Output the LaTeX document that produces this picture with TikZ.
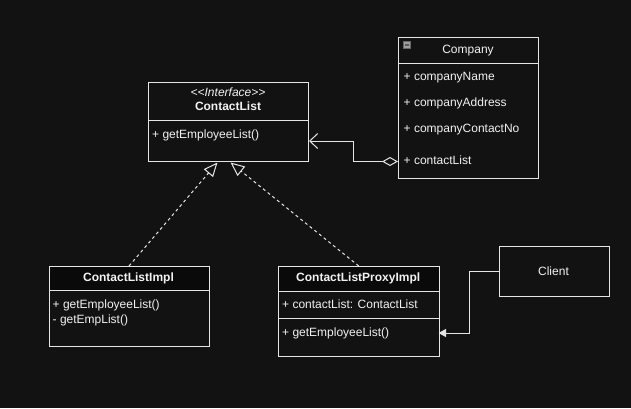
\documentclass[tikz,border=0pt]{standalone}
\usepackage{fontspec}
\setmainfont{Liberation Sans}[Ligatures=TeXOff]
\usetikzlibrary{arrows.meta,calc}
\definecolor{bg}{HTML}{121212}
\definecolor{hdr}{HTML}{0A0A0A}
\definecolor{ln}{HTML}{E6E6E6}
\definecolor{tx}{HTML}{F2F2F2}
\begin{document}
\begin{tikzpicture}[x=1pt,y=-1pt,
  box/.style={draw=ln,line width=1pt,fill=bg,rectangle,inner sep=0pt,anchor=north west},
  hbox/.style={box,fill=hdr},
  txt/.style={text=tx,inner sep=0pt,font=\fontsize{12}{14}\selectfont},
  ltxt/.style={txt,anchor=base west},
  ctxt/.style={txt,anchor=base},
  edge/.style={draw=ln,line width=1pt},
  real/.style={edge,dash pattern=on 3pt off 3pt,-{Triangle[open,fill=bg,length=14pt,width=12pt]}},
]
\fill[bg] (0,0) rectangle (631,408);
\useasboundingbox (0,0) rectangle (631,408);

% ContactList
\node[box,minimum width=160pt,minimum height=38pt] (clh) at (148,82) {};
\node[box,minimum width=160pt,minimum height=41pt] (clm) at (148,120) {};
\node[ctxt,font=\itshape\fontsize{12}{14}\selectfont] (clst) at (228,96) {<<Interface>>};
\node[ctxt,font=\bfseries\fontsize{12}{14}\selectfont] (clt) at (228,110.5) {ContactList};
\node[ltxt] (clm1) at (152,138.5) {+ getEmployeeList()};

% Company
\node[box,minimum width=140pt,minimum height=25.5pt] (coh) at (398,37) {};
\node[box,minimum width=140pt,minimum height=115.5pt] (cob) at (398,62.5) {};
\node[ctxt] (cot) at (468,53.5) {Company};
\node[draw=black!60,fill=black!38,line width=0.8pt,minimum size=7pt,inner sep=0pt] (coicon) at (407,45) {};
\draw[black!65,line width=1.2pt] ($(coicon.center)+(-2.3,0)$) -- ($(coicon.center)+(2.3,0)$);
\node[ltxt] (coa1) at (403.5,80.5) {+ companyName};
\node[ltxt] (coa2) at (403.5,106.5) {+ companyAddress};
\node[ltxt] (coa3) at (403.5,132.5) {+ companyContactNo};
\node[ltxt] (coa4) at (403.5,164.5) {+ contactList};
\coordinate (aggstart) at (398,161.5);

% ContactListImpl
\node[hbox,minimum width=160pt,minimum height=24pt] (cih) at (48.5,266) {};
\node[box,minimum width=160pt,minimum height=56pt] (cib) at (48.5,290) {};
\node[ctxt,font=\bfseries\fontsize{12}{14}\selectfont] (cit) at (128.5,281.5) {ContactListImpl};
\node[ltxt] (cim1) at (52.5,308.5) {+ getEmployeeList()};
\node[ltxt] (cim2) at (52.5,323.5) {- getEmpList()};

% ContactListProxyImpl
\node[hbox,minimum width=160.5pt,minimum height=24.5pt] (cph) at (278,266) {};
\node[box,minimum width=160.5pt,minimum height=27.5pt] (cpa) at (278,290.5) {};
\node[box,minimum width=160.5pt,minimum height=38pt] (cpm) at (278,318) {};
\node[ctxt,font=\bfseries\fontsize{12}{14}\selectfont] (cpt) at (358.25,281.5) {ContactListProxyImpl};
\node[ltxt] (cpa1) at (282,308.5) {+ contactList: ContactList};
\node[ltxt] (cpm1) at (282,336.5) {+ getEmployeeList()};
\coordinate (cparr) at (438.5,333);

% Client
\node[box,minimum width=110pt,minimum height=50pt] (cli) at (498.5,246) {};
\node[ctxt] (clit) at (553.5,275.5) {Client};

% connectors
\draw[edge,{Diamond[open,fill=bg,length=16pt,width=9pt]}-{Straight Barb[length=8pt,width=15pt]}]
  (aggstart) -- (353,161.5) |- (clm.east);
\draw[real] (cih.north) -- ($(clm.south)+(-11,0.5)$);
\draw[real] (cph.north) -- ($(clm.south)+(2,0.5)$);
\draw[edge,-{Triangle[length=7.5pt,width=8pt]}] (cli.west) -- ++(-29.5,0) |- (cparr);
\end{tikzpicture}
\end{document}
